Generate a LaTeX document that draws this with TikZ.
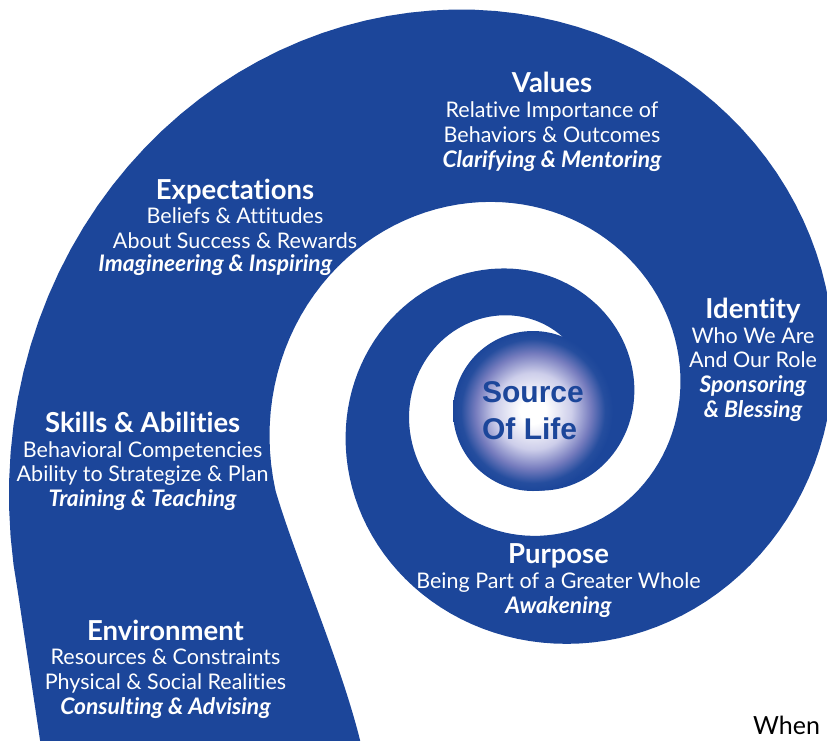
\documentclass[tikz,border=0pt]{standalone}
\usepackage{fontspec}
\setmainfont{Lato}[Ligatures=NoCommon]
\newfontfamily\corefont{Liberation Sans}

\definecolor{spiralblue}{RGB}{28,70,154}
\definecolor{glowlight}{RGB}{205,206,234}
\definecolor{glowmid}{RGB}{118,124,190}

% white in the middle, blue towards the rim (rim sits at 25bp)
\pgfdeclareradialshading{coreglow}{\pgfpoint{0bp}{0bp}}{%
  color(0bp)=(white); color(4bp)=(white); color(12bp)=(glowlight);
  color(18bp)=(glowmid); color(22.5bp)=(spiralblue!96); color(25bp)=(spiralblue);
  color(50bp)=(spiralblue)}

\tikzset{
  declare function={gapr(\t)=87*exp(0.0023*(\t-90));
                    bandr(\t)=105.9*exp(0.002915*(\t-360));},
  stage/.style={text=white, align=center, anchor=north, inner sep=0pt,
                font=\fontsize{21.5}{24.7}\selectfont},
}
\newcommand{\stagename}[1]{{\fontsize{27.5}{24.7}\selectfont\bfseries #1}}
\newcommand{\stageact}[1]{{\fontsize{22.8}{24.7}\selectfont\bfseries\itshape #1}}

\begin{document}
\begin{tikzpicture}[x=1pt, y=-1pt]
\useasboundingbox (0,0) rectangle (827,740);
\clip (0,0) rectangle (827,740);

% the band: inner edge runs along the gap, outer edge one turn further out
\fill[spiralblue]
  plot[domain=-100:560, samples=220] ({517+gapr(\x)*cos(\x)}, {403-gapr(\x)*sin(\x)})
  .. controls (296,560) and (340,660) .. (360,740) -- (364,770) -- (45,770) -- (40,740)
  -- plot[domain=920:260, samples=220] ({527+bandr(\x)*cos(\x)}, {408-bandr(\x)*sin(\x)})
  -- cycle;

% centre
\node[circle, minimum size=160pt, inner sep=0pt, shade, shading=coreglow,
      text=spiralblue, align=left,
      font=\corefont\bfseries\fontsize{30}{36.7}\selectfont]
  (source) at (533,411) {Source\\Of Life};

% stages along the band
\node[stage] (values) at (552,72.3) {\stagename{Values}\\Relative Importance of\\
  Behaviors \& Outcomes\\\stageact{Clarifying \& Mentoring}};
\node[stage] (expectations) at (235,178.6) {\stagename{Expectations}\\Beliefs \& Attitudes\\
  About Success \& Rewards};
\node[stage, anchor=base] (imagineering) at (215.3,271.7) {\stageact{Imagineering \& Inspiring}};
\node[stage] (identity) at (753,297.9) {\stagename{Identity}\\Who We Are\\And Our Role\\
  \stageact{Sponsoring}\\\stageact{\& Blessing}};
\node[stage] (skills) at (142.6,411.8) {\stagename{Skills \& Abilities}\\Behavioral Competencies\\
  Ability to Strategize \& Plan\\\stageact{Training \& Teaching}};
\node[stage] (purpose) at (558.5,543.9) {\stagename{Purpose}\\Being Part of a Greater Whole\\
  \stageact{Awakening}};
\node[stage] (environment) at (165.5,619.6) {\stagename{Environment}\\Resources \& Constraints\\
  Physical \& Social Realities\\\stageact{Consulting \& Advising}};

\node[anchor=base west, inner sep=0pt, font=\fontsize{25}{28}\selectfont] (when) at (753,734) {When};
\end{tikzpicture}
\end{document}
